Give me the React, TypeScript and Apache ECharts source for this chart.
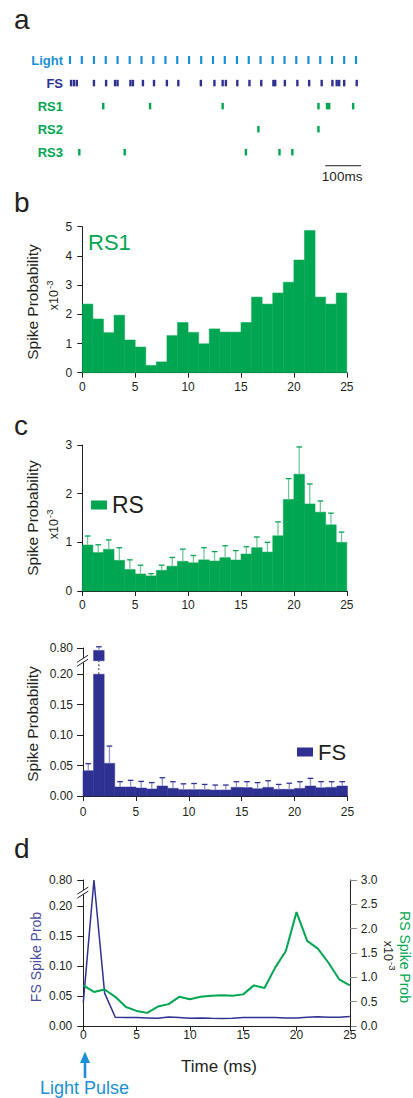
import React, { useEffect, useRef } from 'react';
import * as echarts from 'echarts';

const FONT = '"Liberation Sans", Arial, Helvetica, sans-serif';
const TXT = '#231f20';
const GREEN = '#00a651';
const GREEN_LIGHT = '#72c995';
const NAVY = '#2e3192';
const NAVY_LIGHT = '#9193cb';
const LIGHTBLUE = '#1b8fd6';
const FS_LABEL = '#4a4c9f';

// ---------- Panel a: raster (times in ms) ----------
const rasterRows = ['Light', 'FS', 'RS1', 'RS2', 'RS3'];
const lightPulses = [0, 33, 67, 100, 133, 167, 200, 233, 267, 300, 333, 367, 400, 433, 467, 500, 533, 567, 600, 633, 667, 700, 733, 767, 800];
const fsSpikes = [3, 11, 19, 67, 101, 126, 133, 169, 176, 204, 235, 271, 303, 366, 404, 427, 436, 468, 502, 535, 569, 574, 601, 636, 669, 704, 734, 746, 753, 767, 802];
const rs1Spikes = [93, 224, 427, 695, 719, 725, 792];
const rs2Spikes = [527, 695];
const rs3Spikes = [26, 153, 492, 586, 622];
const scaleBarMs = [714, 814];

// ---------- Panel b: RS1 histogram (x10^-3) ----------
const bins = [0, 1, 2, 3, 4, 5, 6, 7, 8, 9, 10, 11, 12, 13, 14, 15, 16, 17, 18, 19, 20, 21, 22, 23, 24];
const rs1Prob = [2.35, 1.84, 1.37, 1.97, 1.12, 0.88, 0.25, 0.37, 1.27, 1.72, 1.38, 0.99, 1.5, 1.39, 1.39, 1.72, 2.59, 2.35, 2.73, 3.1, 3.86, 4.87, 2.59, 2.35, 2.73];

// ---------- Panel c: population RS (x10^-3) and FS ----------
const rsMean = [0.945, 0.79, 0.856, 0.63, 0.44, 0.35, 0.31, 0.425, 0.51, 0.61, 0.58, 0.64, 0.616, 0.685, 0.637, 0.76, 0.89, 0.8, 1.135, 1.88, 2.4, 1.79, 1.62, 1.36, 1.0];
const rsErrTop = [1.13, 0.95, 1.05, 0.89, 0.64, 0.53, 0.355, 0.53, 0.69, 0.86, 0.73, 0.89, 0.81, 0.93, 0.83, 0.91, 1.11, 1.0, 1.42, 2.31, 2.96, 2.2, 1.85, 1.6, 1.21];
const fsMean = [0.0415, 0.796, 0.0536, 0.0148, 0.0148, 0.0131, 0.0115, 0.0164, 0.0126, 0.0104, 0.0104, 0.0104, 0.0098, 0.0098, 0.0142, 0.0138, 0.012, 0.0142, 0.011, 0.011, 0.0125, 0.0164, 0.0135, 0.0142, 0.0164];
const fsErrTop = [0.053, 0.802, 0.082, 0.0235, 0.0257, 0.024, 0.022, 0.03, 0.0235, 0.02, 0.0205, 0.019, 0.018, 0.018, 0.0235, 0.0235, 0.022, 0.025, 0.019, 0.021, 0.0235, 0.029, 0.0235, 0.0235, 0.0235];

// ---------- Panel d: lines ----------
const timeMs = [0, 1, 2, 3, 4, 5, 6, 7, 8, 9, 10, 11, 12, 13, 14, 15, 16, 17, 18, 19, 20, 21, 22, 23, 24, 25];
const fsLine = [0.039, 0.8, 0.0547, 0.0145, 0.014, 0.014, 0.0134, 0.0128, 0.015, 0.014, 0.0128, 0.0134, 0.0128, 0.0123, 0.0128, 0.014, 0.014, 0.014, 0.014, 0.0134, 0.0134, 0.0145, 0.0156, 0.0145, 0.0145, 0.016];
const rsLine = [0.835, 0.7, 0.75, 0.6, 0.39, 0.31, 0.27, 0.4, 0.45, 0.6, 0.55, 0.6, 0.62, 0.63, 0.62, 0.65, 0.835, 0.78, 1.2, 1.54, 2.34, 1.75, 1.59, 1.3, 0.96, 0.835];

// broken FS axis: 0..0.2 linear, then jump to upper segment ending at 0.80
const LOWER_MAX = 0.2;
const DMAX = 0.243;
const BRK = 0.222;
const UPPER_LO = 0.8 - (DMAX - BRK);
const disp = (v: number) => (v <= LOWER_MAX ? v : BRK + (v - UPPER_LO));
const FS_TICKS = [0, 0.05, 0.1, 0.15, 0.2, DMAX];
const fsFmt = (v: number) => (v > 0.21 ? '0.80' : v.toFixed(2));

function xAxisHist(gridIndex: number, margin: number) {
  return {
    type: 'value', gridIndex, min: 0, max: 25, interval: 5,
    axisLine: { show: true, onZero: false, lineStyle: { color: TXT, width: 1 } },
    axisTick: { show: true, length: 5, lineStyle: { color: TXT, width: 1 } },
    axisLabel: { color: TXT, fontSize: 12, fontFamily: FONT, margin },
    splitLine: { show: false },
  };
}
function yAxisBase(gridIndex: number, extra: any) {
  return {
    type: 'value', gridIndex,
    axisLine: { show: true, onZero: false, lineStyle: { color: TXT, width: 1 } },
    axisTick: { show: true, length: 6, lineStyle: { color: TXT, width: 1 } },
    axisLabel: { color: TXT, fontSize: 12, fontFamily: FONT, margin: 10 },
    splitLine: { show: false },
    ...extra,
  };
}

function histRender(color: string, brk: boolean) {
  const st = { fill: color, stroke: color, lineWidth: 0.5 };
  return (params: any, api: any) => {
    const i = api.value(0);
    const v = api.value(1);
    const b0 = api.coord([i, 0]);
    const b1 = api.coord([i + 1, 0]);
    const x0 = b0[0];
    const w = b1[0] - b0[0];
    if (!brk || v <= LOWER_MAX) {
      const yt = api.coord([i, brk ? disp(v) : v])[1];
      return { type: 'rect', shape: { x: x0, y: yt, width: w, height: b0[1] - yt }, style: st };
    }
    const yCap = api.coord([i, LOWER_MAX])[1];
    const yBrk = api.coord([i, BRK])[1];
    const yTop = api.coord([i, disp(v)])[1];
    const xm = x0 + w / 2;
    return {
      type: 'group',
      children: [
        { type: 'rect', shape: { x: x0, y: yCap, width: w, height: b0[1] - yCap }, style: st },
        { type: 'line', shape: { x1: xm, y1: yCap, x2: xm, y2: yBrk }, style: { stroke: '#333', lineWidth: 1, lineDash: [2, 2] } },
        { type: 'rect', shape: { x: x0, y: yTop, width: w, height: yBrk - yTop }, style: st },
      ],
    };
  };
}

function errRender(light: string, dark: string, brk: boolean) {
  return (params: any, api: any) => {
    const i = api.value(0);
    const v = api.value(1);
    const e = api.value(2);
    const f = (x: number) => (brk ? disp(x) : x);
    const xm = api.coord([i + 0.5, 0])[0];
    const yv = api.coord([i, f(v)])[1];
    const ye = api.coord([i, f(e)])[1];
    return {
      type: 'group',
      children: [
        { type: 'line', shape: { x1: xm, y1: yv, x2: xm, y2: ye }, style: { stroke: light, lineWidth: 1.3 } },
        { type: 'line', shape: { x1: xm - 2.8, y1: ye, x2: xm + 2.8, y2: ye }, style: { stroke: dark, lineWidth: 1.3 } },
      ],
    };
  };
}

function breakRender(params: any, api: any) {
  const p = api.coord([api.value(0), api.value(1)]);
  const x = p[0];
  const y = p[1];
  return {
    type: 'group',
    children: [
      { type: 'polygon', shape: { points: [[x - 6, y + 1.5], [x + 5, y - 5.5], [x + 5, y - 1.5], [x - 6, y + 5.5]] }, style: { fill: '#fff' } },
      { type: 'line', shape: { x1: x - 6, y1: y + 1.5, x2: x + 5, y2: y - 5.5 }, style: { stroke: TXT, lineWidth: 1 } },
      { type: 'line', shape: { x1: x - 6, y1: y + 5.5, x2: x + 5, y2: y - 1.5 }, style: { stroke: TXT, lineWidth: 1 } },
    ],
  };
}

function scaleBarRender(params: any, api: any) {
  const a = api.coord([api.value(0), 4]);
  const b = api.coord([api.value(1), 4]);
  const y = a[1] + 13.5;
  return {
    type: 'group',
    children: [
      { type: 'line', shape: { x1: a[0], y1: y, x2: b[0], y2: y }, style: { stroke: TXT, lineWidth: 1 } },
      {
        type: 'text', x: (a[0] + b[0]) / 2 - 1, y: y + 10.5,
        style: { text: '100ms', fontSize: 13.5, fontFamily: FONT, fill: TXT, textAlign: 'center', align: 'center', textVerticalAlign: 'middle', verticalAlign: 'middle' },
      },
    ],
  };
}

function txt(text: string, x: number, y: number, o: any = {}) {
  return {
    type: 'text', x, y, rotation: o.rot ?? 0,
    style: {
      text, fontSize: o.size ?? 12, fontFamily: FONT, fontWeight: o.weight ?? 'normal', fill: o.color ?? TXT,
      textAlign: o.align ?? 'center', align: o.align ?? 'center', textVerticalAlign: 'middle', verticalAlign: 'middle',
    },
  };
}
function sciLabel(x: number, y: number, rot: number) {
  return {
    type: 'group', x, y, rotation: rot,
    children: [
      txt('x10', 0, 0, { size: 12.5, align: 'right' }),
      txt('-3', 1, -4.5, { size: 9.5, align: 'left' }),
    ],
  };
}

export default function App() {
  const ref = useRef<HTMLDivElement>(null);
  useEffect(() => {
    if (!ref.current) return;
    const chart = echarts.init(ref.current, undefined, { renderer: 'svg' });
    const richRows: any = {};
    const rowColors: any = { Light: LIGHTBLUE, FS: NAVY, RS1: GREEN, RS2: GREEN, RS3: GREEN };
    rasterRows.forEach((r) => {
      richRows[r] = { color: rowColors[r], fontWeight: 'bold', fontSize: 13, fontFamily: FONT };
    });
    const rasterSeries = (data: number[], row: number, color: string, size: number[]) => ({
      type: 'scatter', xAxisIndex: 0, yAxisIndex: 0, symbol: 'rect', symbolSize: size, silent: true,
      itemStyle: { color, opacity: 1 }, data: data.map((t) => [t, row]),
    });

    const option: any = {
      animation: false,
      backgroundColor: '#fff',
      textStyle: { fontFamily: FONT },
      grid: [
        { left: 70, top: 48.5, width: 300.3, height: 115.25, outerBoundsMode: 'none' },
        { left: 82.3, top: 226.7, width: 264.5, height: 146, outerBoundsMode: 'none' },
        { left: 82.3, top: 445, width: 264.5, height: 146, outerBoundsMode: 'none' },
        { left: 83, top: 648, width: 264.5, height: 148, outerBoundsMode: 'none' },
        { left: 83.3, top: 880, width: 266.5, height: 146, outerBoundsMode: 'none' },
      ],
      xAxis: [
        { type: 'value', gridIndex: 0, min: 0, max: 840, show: false },
        xAxisHist(1, 8),
        xAxisHist(2, 8),
        xAxisHist(3, 10),
        xAxisHist(4, 3),
      ],
      yAxis: [
        {
          type: 'category', gridIndex: 0, data: rasterRows, inverse: true,
          axisLine: { show: false }, axisTick: { show: false }, splitLine: { show: false },
          axisLabel: { interval: 0, margin: 7, formatter: (v: string) => `{${v}|${v}}`, rich: richRows },
        },
        yAxisBase(1, { min: 0, max: 5, interval: 1, axisTick: { show: true, length: 5, lineStyle: { color: TXT } } }),
        yAxisBase(2, { min: 0, max: 3, interval: 1, axisTick: { show: true, length: 5, lineStyle: { color: TXT } } }),
        yAxisBase(3, {
          min: 0, max: DMAX, interval: 0.05,
          axisLabel: { color: TXT, fontSize: 12, fontFamily: FONT, margin: 10, formatter: fsFmt, customValues: FS_TICKS },
          axisTick: { show: true, length: 6, lineStyle: { color: TXT }, customValues: FS_TICKS },
        }),
        yAxisBase(4, {
          min: 0, max: DMAX, interval: 0.05,
          axisLabel: { color: TXT, fontSize: 12, fontFamily: FONT, margin: 11, formatter: fsFmt, customValues: FS_TICKS },
          axisTick: { show: true, length: 6, lineStyle: { color: TXT }, customValues: FS_TICKS },
        }),
        yAxisBase(4, {
          position: 'right', min: 0, max: 3, interval: 0.5,
          axisLabel: { color: TXT, fontSize: 12, fontFamily: FONT, margin: 11, formatter: (v: number) => v.toFixed(1) },
          axisTick: { show: true, length: 7, lineStyle: { color: '#8a8a8a' } },
        }),
      ],
      legend: [
        {
          data: ['RS'], left: 91, top: 493.5, padding: 0, icon: 'rect', itemWidth: 16, itemHeight: 9,
          selectedMode: false, textStyle: { fontSize: 23, color: TXT, fontFamily: FONT },
        },
        {
          data: ['FS'], left: 297, top: 741, padding: 0, icon: 'rect', itemWidth: 16, itemHeight: 9,
          selectedMode: false, textStyle: { fontSize: 22, color: TXT, fontFamily: FONT },
        },
      ],
      series: [
        rasterSeries(lightPulses, 0, LIGHTBLUE, [2.2, 8]),
        rasterSeries(fsSpikes, 1, NAVY, [2.4, 6.5]),
        rasterSeries(rs1Spikes, 2, GREEN, [2.4, 6.5]),
        rasterSeries(rs2Spikes, 3, GREEN, [2.4, 6.5]),
        rasterSeries(rs3Spikes, 4, GREEN, [2.4, 6.5]),
        { type: 'custom', name: 'scale', xAxisIndex: 0, yAxisIndex: 0, silent: true, renderItem: scaleBarRender, data: [scaleBarMs] },
        {
          type: 'custom', name: 'RS1', xAxisIndex: 1, yAxisIndex: 1, silent: true, itemStyle: { color: GREEN },
          renderItem: histRender(GREEN, false), data: bins.map((b, i) => [b, rs1Prob[i]]),
        },
        {
          type: 'custom', name: 'RS', xAxisIndex: 2, yAxisIndex: 2, silent: true, itemStyle: { color: GREEN }, color: GREEN,
          renderItem: histRender(GREEN, false), data: bins.map((b, i) => [b, rsMean[i]]),
        },
        {
          type: 'custom', name: 'RS err', xAxisIndex: 2, yAxisIndex: 2, silent: true, z: 3,
          renderItem: errRender(GREEN_LIGHT, GREEN, false), data: bins.map((b, i) => [b, rsMean[i], rsErrTop[i]]),
        },
        {
          type: 'custom', name: 'FS', xAxisIndex: 3, yAxisIndex: 3, silent: true, itemStyle: { color: NAVY }, color: NAVY,
          renderItem: histRender(NAVY, true), data: bins.map((b, i) => [b, fsMean[i]]),
        },
        {
          type: 'custom', name: 'FS err', xAxisIndex: 3, yAxisIndex: 3, silent: true, z: 3,
          renderItem: errRender(NAVY_LIGHT, NAVY, true), data: bins.map((b, i) => [b, fsMean[i], fsErrTop[i]]),
        },
        { type: 'custom', name: 'brk c', xAxisIndex: 3, yAxisIndex: 3, silent: true, z: 10, renderItem: breakRender, data: [[0, BRK]] },
        {
          type: 'line', name: 'FS line', xAxisIndex: 4, yAxisIndex: 4, symbol: 'none', showSymbol: false, silent: true,
          lineStyle: { color: NAVY, width: 1.5 }, itemStyle: { color: NAVY },
          data: timeMs.map((t, i) => [t, disp(fsLine[i])]),
        },
        {
          type: 'line', name: 'RS line', xAxisIndex: 4, yAxisIndex: 5, symbol: 'none', showSymbol: false, silent: true,
          lineStyle: { color: GREEN, width: 2 }, itemStyle: { color: GREEN },
          data: timeMs.map((t, i) => [t, rsLine[i]]),
        },
        { type: 'custom', name: 'brk d', xAxisIndex: 4, yAxisIndex: 4, silent: true, z: 10, renderItem: breakRender, data: [[0, BRK]] },
      ],
      graphic: [
        txt('a', 14, 19, { size: 28, align: 'left' }),
        txt('b', 14, 202.5, { size: 28, align: 'left' }),
        txt('c', 14, 425.5, { size: 28, align: 'left' }),
        txt('d', 14, 848.5, { size: 28, align: 'left' }),
        txt('RS1', 88, 242.5, { size: 22, align: 'left', color: GREEN }),
        txt('Spike Probability', 32.5, 302, { size: 15.5, rot: Math.PI / 2 }),
        sciLabel(54, 290, Math.PI / 2),
        txt('Spike Probability', 32.5, 518, { size: 15.5, rot: Math.PI / 2 }),
        sciLabel(54, 519, Math.PI / 2),
        txt('Spike Probability', 32.5, 724, { size: 15.5, rot: Math.PI / 2 }),
        txt('FS Spike Prob', 36, 957, { size: 14, rot: Math.PI / 2, color: FS_LABEL }),
        txt('RS Spike Prob', 405, 957, { size: 14, rot: -Math.PI / 2, color: GREEN }),
        sciLabel(387.5, 961, -Math.PI / 2),
        txt('Time (ms)', 219, 1066, { size: 17 }),
        txt('Light Pulse', 84.5, 1088, { size: 18, color: LIGHTBLUE }),
        { type: 'polygon', shape: { points: [[80, 1063], [85, 1051.5], [90, 1063]] }, style: { fill: LIGHTBLUE } },
        { type: 'rect', shape: { x: 83.7, y: 1062, width: 2.6, height: 16 }, style: { fill: LIGHTBLUE } },
      ],
    };
    chart.setOption(option);
    return () => chart.dispose();
  }, []);
  return <div ref={ref} style={{ position: 'absolute', left: 0, top: 0, width: 413, height: 1098, background: '#fff' }} />;
}
